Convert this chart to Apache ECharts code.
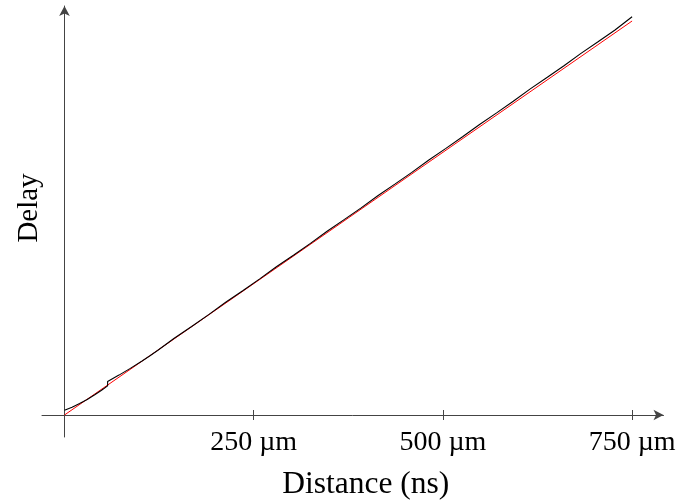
<!DOCTYPE html>
<html>
<head>
<meta charset="utf-8">
<script src="https://cdn.jsdelivr.net/npm/echarts@6/dist/echarts.min.js"></script>
<style>html,body{margin:0;padding:0;background:#fff}#c{width:677px;height:501px}</style>
</head>
<body>
<div id="c"></div>
<script>
// Tick labels (µm)
var tickValues = [250, 500, 750];
var tickLabels = ['250 µm', '500 µm', '750 µm'];

// Black curve (delay with steps), x in µm, y in arbitrary delay units
var blackX = [0, 10, 20, 30, 40, 49, 57, 57, 72, 87, 102, 113, 123, 123, 145, 168, 191, 191, 213, 236, 258, 258, 280, 303, 325, 325, 347, 370, 392, 392, 414, 437, 459, 459, 481, 504, 526, 526, 548, 571, 593, 593, 615, 638, 660, 660, 682, 705, 727, 727, 750];
var blackY = [4.7, 7.7, 11.4, 15.5, 20.2, 24.8, 29.1, 33.4, 39.9, 46.6, 53.8, 59.3, 64.5, 65.8, 76.7, 88.5, 100.6, 101.9, 112.7, 124.5, 136.1, 137.4, 148.2, 160.0, 171.6, 172.9, 183.8, 195.6, 207.1, 208.4, 219.3, 231.1, 242.6, 243.9, 254.8, 266.6, 278.2, 279.5, 290.3, 302.1, 313.7, 315.0, 325.9, 337.7, 349.2, 350.5, 361.4, 373.2, 384.7, 386.0, 398.3];

// Red straight reference line
var redX = [0, 750];
var redY = [0, 394];

function zip(a, b) { return a.map(function (v, i) { return [v, b[i]]; }); }

var FONT = 'Liberation Serif';
var chart = echarts.init(document.getElementById('c'), null, { renderer: 'canvas' });
chart.setOption({
  animation: false,
  backgroundColor: '#fff',
  grid: { left: 42, right: 13.5, top: 6, bottom: 64, containLabel: false, outerBoundsMode: 'none' },
  xAxis: [{
    type: 'value', min: -29.7, max: 791.5,
    splitLine: { show: false },
    axisLine: { onZero: true, onZeroAxisIndex: 0, lineStyle: { color: '#444', width: 1 }, symbol: ['none', 'arrow'], symbolSize: [8, 10] },
    axisTick: { show: true, inside: false, length: 5, lineStyle: { color: '#444' }, customValues: tickValues },
    axisLabel: { show: true, customValues: tickValues, margin: -8, color: '#000', fontFamily: FONT, fontSize: 28,
      formatter: function (v) { return tickLabels[tickValues.indexOf(v)] || ''; } },
    name: 'Distance (ns)', nameLocation: 'middle', nameGap: 32,
    nameTextStyle: { color: '#000', fontFamily: FONT, fontSize: 31.5, padding: [0, 0, 0, 26] }
  }, {
    type: 'value', min: -29.7, max: 791.5, position: 'bottom',
    splitLine: { show: false },
    axisLine: { show: false, onZero: true, onZeroAxisIndex: 1 },
    axisTick: { show: true, inside: true, length: 5, lineStyle: { color: '#444' }, customValues: tickValues },
    axisLabel: { show: false }
  }],
  yAxis: [{
    type: 'value', min: -22, max: 409,
    splitLine: { show: false },
    axisLine: { onZero: true, onZeroAxisIndex: 0, lineStyle: { color: '#444', width: 1 }, symbol: ['none', 'arrow'], symbolSize: [8, 10] },
    axisTick: { show: false },
    axisLabel: { show: false },
    name: 'Delay', nameLocation: 'middle', nameGap: -2, nameRotate: 90,
    nameTextStyle: { color: '#000', fontFamily: FONT, fontSize: 29, padding: [0, 0, 0, 27] }
  }, {
    type: 'value', min: -22, max: 409,
    splitLine: { show: false },
    axisLine: { show: false, onZero: false },
    axisTick: { show: false },
    axisLabel: { show: false }
  }],
  series: [{
    type: 'line', data: zip(redX, redY), showSymbol: false, symbol: 'none',
    lineStyle: { color: '#ff0000', width: 1 }, z: 2
  }, {
    type: 'line', data: zip(blackX, blackY), showSymbol: false, symbol: 'none',
    lineStyle: { color: '#000', width: 1.1 }, z: 3
  }]
});
</script>
</body>
</html>
